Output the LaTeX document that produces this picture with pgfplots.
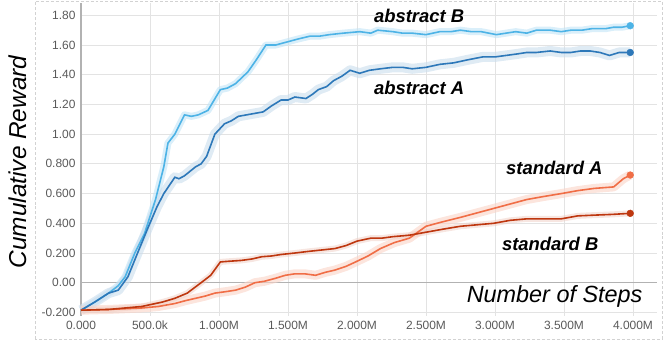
\documentclass[border=0pt]{standalone}
\usepackage{pgfplots}
\pgfplotsset{compat=1.18}
\usepackage{pgfplotstable}
\usepackage{fontspec}
\setmainfont{Liberation Sans}
\definecolor{absB}{HTML}{4DB3E6}
\definecolor{absA}{HTML}{2D78B9}
\definecolor{stdA}{HTML}{F06E46}
\definecolor{stdB}{HTML}{BE370F}
\definecolor{tickgray}{HTML}{5A5A5A}

\pgfplotstableread{
x y
0 -0.185
0.1 -0.13
0.2 -0.07
0.27 -0.02
0.32 0.04
0.39 0.20
0.46 0.33
0.54 0.56
0.60 0.78
0.63 0.94
0.68 1.00
0.75 1.13
0.80 1.12
0.85 1.13
0.92 1.16
1.01 1.30
1.06 1.31
1.12 1.34
1.21 1.42
1.27 1.50
1.34 1.60
1.41 1.60
1.49 1.62
1.57 1.64
1.66 1.66
1.73 1.66
1.80 1.67
1.90 1.68
2.02 1.69
2.10 1.68
2.15 1.70
2.26 1.69
2.33 1.68
2.40 1.68
2.50 1.67
2.60 1.69
2.68 1.69
2.75 1.70
2.83 1.69
2.90 1.69
3.01 1.67
3.08 1.68
3.15 1.69
3.23 1.68
3.30 1.70
3.40 1.70
3.48 1.69
3.55 1.70
3.63 1.70
3.70 1.71
3.80 1.71
3.86 1.72
3.92 1.72
3.98 1.73
}\absBdata

\pgfplotstableread{
x y
0 -0.185
0.1 -0.13
0.2 -0.07
0.27 -0.05
0.34 0.04
0.41 0.20
0.49 0.38
0.55 0.51
0.60 0.60
0.68 0.71
0.71 0.70
0.75 0.72
0.83 0.78
0.87 0.80
0.91 0.85
0.97 1.00
1.04 1.07
1.09 1.09
1.14 1.12
1.20 1.13
1.26 1.14
1.32 1.15
1.38 1.19
1.45 1.23
1.50 1.23
1.55 1.25
1.63 1.24
1.68 1.27
1.72 1.30
1.78 1.32
1.83 1.36
1.89 1.39
1.95 1.43
2.02 1.41
2.09 1.43
2.17 1.44
2.26 1.45
2.33 1.45
2.40 1.44
2.50 1.45
2.60 1.47
2.70 1.48
2.80 1.50
2.91 1.52
3.00 1.52
3.08 1.53
3.16 1.54
3.23 1.55
3.30 1.55
3.40 1.56
3.48 1.55
3.55 1.55
3.62 1.56
3.69 1.56
3.76 1.55
3.83 1.53
3.90 1.55
3.98 1.55
}\absAdata

\pgfplotstableread{
x y
0 -0.185
0.2 -0.18
0.44 -0.16
0.59 -0.13
0.68 -0.105
0.77 -0.07
0.87 0.00
0.94 0.05
1.01 0.14
1.08 0.145
1.16 0.15
1.24 0.16
1.31 0.175
1.38 0.18
1.45 0.19
1.55 0.20
1.64 0.21
1.74 0.22
1.84 0.23
1.92 0.25
2.00 0.28
2.10 0.30
2.18 0.30
2.26 0.31
2.38 0.32
2.50 0.34
2.62 0.36
2.75 0.38
2.87 0.39
2.99 0.40
3.11 0.42
3.23 0.43
3.35 0.43
3.48 0.43
3.60 0.45
3.72 0.455
3.85 0.46
3.98 0.467
}\stdBdata

\pgfplotstableread{
x y
0 -0.185
0.2 -0.18
0.44 -0.17
0.56 -0.16
0.68 -0.14
0.76 -0.12
0.83 -0.105
0.90 -0.09
0.97 -0.07
1.05 -0.06
1.12 -0.05
1.19 -0.03
1.26 0.00
1.33 0.01
1.41 0.03
1.48 0.05
1.55 0.06
1.62 0.06
1.70 0.05
1.77 0.07
1.84 0.085
1.92 0.11
1.99 0.14
2.08 0.18
2.17 0.23
2.27 0.27
2.38 0.30
2.44 0.34
2.50 0.38
2.62 0.41
2.75 0.44
2.87 0.47
2.99 0.50
3.11 0.53
3.23 0.56
3.35 0.58
3.48 0.60
3.60 0.62
3.72 0.635
3.86 0.645
3.93 0.70
3.98 0.725
}\stdAdata

\begin{document}
\begin{tikzpicture}
\path (0bp,0bp) rectangle (665bp,340bp);
\draw[densely dashed, gray!35, line width=0.6bp] (35bp,1bp) rectangle (662bp,339bp);
\begin{axis}[
  at={(81bp,24bp)}, anchor=south west,
  scale only axis, width=576bp, height=313bp,
  xmin=0, xmax=4.174, ymin=-0.224, ymax=1.883,
  axis line style={draw=none},
  major tick length=0pt,
  grid=major,
  grid style={gray!22, line width=0.9bp},
  xtick={0,0.5,1,1.5,2,2.5,3,3.5,4},
  xticklabels={0.000,500.0k,1.000M,1.500M,2.000M,2.500M,3.000M,3.500M,4.000M},
  ytick={-0.2,0,0.2,0.4,0.6,0.8,1.0,1.2,1.4,1.6,1.8},
  yticklabels={-0.200,0.00,0.200,0.400,0.600,0.800,1.00,1.20,1.40,1.60,1.80},
  tick label style={font=\fontsize{12}{12}\selectfont, text=tickgray},
  xticklabel style={yshift=-1bp, text height=8.6bp, text depth=0pt},
  yticklabel style={xshift=-2bp},
  clip=false,
]
\draw[gray!60, line width=0.9bp] (axis cs:0,0) -- (axis cs:4.174,0);
\draw[gray!60, line width=1.2bp] (axis cs:0,-0.224) -- (axis cs:0,1.883);

\addplot[absB!35, line width=7bp, opacity=0.6, line join=round] table {\absBdata};
\addplot[absA!25, line width=10bp, opacity=0.6, line join=round] table {\absAdata};
\addplot[stdA!30, line width=9bp, opacity=0.6, line join=round] table {\stdAdata};
\addplot[stdB!25, line width=6bp, opacity=0.5, line join=round] table {\stdBdata};

\addplot[absB, line width=1.6bp] table {\absBdata};
\addplot[absA, line width=1.6bp] table {\absAdata};
\addplot[stdA, line width=1.6bp] table {\stdAdata};
\addplot[stdB, line width=1.6bp] table {\stdBdata};

\addplot[only marks, mark=*, mark size=3.4bp, absB] coordinates {(3.98,1.73)};
\addplot[only marks, mark=*, mark size=3.4bp, absA] coordinates {(3.98,1.55)};
\addplot[only marks, mark=*, mark size=3.4bp, stdA] coordinates {(3.98,0.725)};
\addplot[only marks, mark=*, mark size=3.4bp, stdB] coordinates {(3.98,0.467)};

\node[font=\fontsize{18.5}{18.5}\selectfont\bfseries\itshape] at (axis cs:2.45,1.795) {abstract B};
\node[font=\fontsize{18.5}{18.5}\selectfont\bfseries\itshape] at (axis cs:2.45,1.31) {abstract A};
\node[font=\fontsize{18.5}{18.5}\selectfont\bfseries\itshape] at (axis cs:3.43,0.772) {standard A};
\node[font=\fontsize{18.5}{18.5}\selectfont\bfseries\itshape] at (axis cs:3.40,0.262) {standard B};
\node[anchor=east, font=\fontsize{23.5}{23.5}\selectfont\itshape, inner sep=0pt] at (axis cs:4.07,-0.09) {Number of Steps};
\end{axis}
\node[rotate=90, font=\fontsize{24.5}{24.5}\selectfont\itshape] at (18bp,178bp) {Cumulative Reward};
\end{tikzpicture}
\end{document}
